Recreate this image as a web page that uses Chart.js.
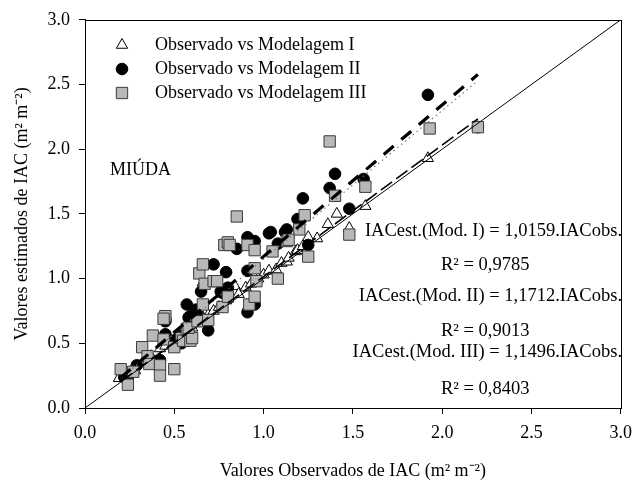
<!DOCTYPE html>
<html><head><meta charset="utf-8">
<script src="https://cdn.jsdelivr.net/npm/chart.js@4.4.1/dist/chart.umd.min.js"></script>
<style>html,body{margin:0;padding:0;background:#fff}#wrap{width:640px;height:487px;position:relative}</style>
</head><body><div id="wrap"><canvas id="c" width="640" height="487"></canvas></div>
<script>
// ---- data ----
const obsModI = [0.19,0.22,0.28,0.33,0.37,0.42,0.45,0.48,0.52,0.56,0.60,0.63,0.66,0.66,0.69,0.72,0.75,0.79,0.84,0.86,0.90,0.93,0.97,1.00,1.03,1.07,1.10,1.13,1.14,1.18,1.19,1.22,1.25,1.30,1.36,1.41,1.48,1.57,1.92,2.20];
const estModI = [0.23,0.25,0.29,0.36,0.40,0.46,0.48,0.52,0.54,0.58,0.62,0.66,0.70,0.97,0.72,0.75,0.78,0.83,0.94,0.88,0.93,0.96,1.00,1.03,1.06,1.07,1.12,1.13,1.16,1.21,1.22,1.25,1.32,1.31,1.42,1.50,1.39,1.56,1.93,2.17];
const obsModII = [0.22,0.24,0.29,0.39,0.42,0.45,0.45,0.45,0.51,0.54,0.55,0.57,0.58,0.59,0.62,0.63,0.65,0.69,0.72,0.76,0.77,0.79,0.80,0.85,0.91,0.91,0.91,0.95,0.95,1.03,1.04,1.08,1.12,1.13,1.19,1.22,1.25,1.37,1.40,1.48,1.56,1.92,2.20];
const estModII = [0.24,0.24,0.33,0.35,0.37,0.57,0.67,0.69,0.53,0.50,0.57,0.80,0.70,0.71,0.76,0.72,0.90,0.60,1.11,0.90,0.89,1.05,0.93,1.23,1.32,1.06,0.74,1.29,0.80,1.35,1.36,1.27,1.36,1.38,1.46,1.62,1.26,1.70,1.81,1.54,1.77,2.42,2.17];
const obsModIII = [0.20,0.24,0.27,0.32,0.35,0.36,0.38,0.42,0.42,0.44,0.45,0.44,0.50,0.50,0.54,0.55,0.57,0.59,0.60,0.58,0.63,0.64,0.66,0.66,0.67,0.69,0.72,0.74,0.77,0.78,0.80,0.81,0.80,0.85,0.91,0.92,0.95,0.95,0.95,0.96,1.05,1.08,1.13,1.14,1.20,1.23,1.25,1.37,1.40,1.48,1.57,1.93,2.20];
const estModIII = [0.30,0.18,0.28,0.47,0.40,0.34,0.56,0.33,0.25,0.53,0.71,0.69,0.30,0.47,0.54,0.52,0.61,0.52,0.54,0.62,0.67,1.04,0.80,1.11,0.96,0.68,0.98,0.98,0.78,1.26,1.28,1.26,0.86,1.48,1.26,0.80,1.22,1.08,0.86,0.98,1.21,1.00,1.29,1.30,1.38,1.49,1.17,2.06,1.64,1.34,1.71,2.16,2.17];
const slopes = [1.0159, 1.1712, 1.1496];
const r2Values = ['0,9785', '0,9013', '0,8403'];
const fitRange = [0.2, 2.2];
const seriesLabels = ['Observado vs Modelagem I', 'Observado vs Modelagem II', 'Observado vs Modelagem III'];
const tickValues = [0, 0.5, 1, 1.5, 2, 2.5, 3];

const FONT = '"Liberation Serif", "Times New Roman", serif';
const pts = (xs, ys) => xs.map((x, i) => ({x, y: ys[i]}));
const fitLine = s => fitRange.map(x => ({x, y: +(x * s).toFixed(4)}));

const styles = [
  {pointStyle: 'triangle', radius: 6.5, bg: '#ffffff', border: '#000000', bw: 1},
  {pointStyle: 'circle', radius: 5.8, bg: '#000000', border: '#000000', bw: 1},
  {pointStyle: 'rect', radius: 8, bg: '#b8b8b8', border: '#3a3a3a', bw: 1}
];

function scatterDs(i, data, order) {
  const s = styles[i];
  return {type: 'scatter', label: seriesLabels[i], data, order,
    pointStyle: s.pointStyle, pointRadius: s.radius, pointHoverRadius: s.radius,
    backgroundColor: s.bg, borderColor: s.border, pointBorderWidth: s.bw, showLine: false};
}

const overlay = {
  id: 'overlay',
  afterDraw(chart) {
    const ctx = chart.ctx, a = chart.chartArea;
    ctx.save();
    ctx.strokeStyle = '#000'; ctx.lineWidth = 1;
    ctx.strokeRect(Math.round(a.left) + 0.5, Math.round(a.top) + 0.5, Math.round(a.right - a.left), Math.round(a.bottom - a.top));
    // legend
    const rows = [45, 69, 93];
    ctx.font = '18px ' + FONT;
    ctx.fillStyle = '#000';
    ctx.textBaseline = 'middle';
    ctx.textAlign = 'left';
    rows.forEach((y, i) => {
      const s = styles[i];
      drawMarker(ctx, s, 122, y);
      ctx.fillStyle = '#000';
      ctx.fillText(seriesLabels[i], 155, y);
    });
    ctx.fillText('MIÚDA', 110, 170);
    // equations
    ctx.font = '18.5px ' + FONT;
    const eqs = ['IACest.(Mod. I) = ' + String(slopes[0].toFixed(4)).replace('.', ',') + '.IACobs.',
                 'IACest.(Mod. II) = ' + String(slopes[1].toFixed(4)).replace('.', ',') + '.IACobs.',
                 'IACest.(Mod. III) = ' + String(slopes[2].toFixed(4)).replace('.', ',') + '.IACobs.'];
    const eqY = [231, 296, 352], r2Y = [265, 331, 389];
    eqs.forEach((t, i) => {
      ctx.textAlign = 'right';
      ctx.fillText(t, 622, eqY[i]);
      ctx.textAlign = 'left';
      ctx.fillText('R² = ' + r2Values[i], 441, r2Y[i]);
    });
    ctx.restore();
  }
};

function drawMarker(ctx, s, x, y) {
  ctx.save();
  ctx.fillStyle = s.bg; ctx.strokeStyle = s.border; ctx.lineWidth = s.bw;
  ctx.beginPath();
  const r = s.radius;
  if (s.pointStyle === 'circle') {
    ctx.arc(x, y, r, 0, Math.PI * 2);
  } else if (s.pointStyle === 'rect') {
    const h = r * Math.SQRT1_2;
    ctx.rect(x - h, y - h, 2 * h, 2 * h);
  } else {
    let rad = 0;
    ctx.moveTo(x + Math.sin(rad) * r, y - Math.cos(rad) * r);
    rad += 2 * Math.PI / 3;
    ctx.lineTo(x + Math.sin(rad) * r, y - Math.cos(rad) * r);
    rad += 2 * Math.PI / 3;
    ctx.lineTo(x + Math.sin(rad) * r, y - Math.cos(rad) * r);
    ctx.closePath();
  }
  ctx.fill(); ctx.stroke();
  ctx.restore();
}

const axisCommon = {
  type: 'linear', min: 0, max: 3,
  afterBuildTicks(scale) { scale.ticks = tickValues.map(v => ({value: v})); },
  grid: {display: true, drawOnChartArea: false, drawTicks: true, tickLength: 6, color: '#000', lineWidth: 1},
  border: {display: true, color: '#000', width: 1}
};

new Chart(document.getElementById('c'), {
  data: {
    datasets: [
      {type: 'line', label: '1:1', data: [{x: 0, y: 0}, {x: 3, y: 3}], borderColor: '#000', borderWidth: 1, pointRadius: 0, fill: false, order: -4},
      {type: 'line', label: 'fit I', data: fitLine(slopes[0]), borderColor: '#000', borderWidth: 1.6, borderDash: [14, 5], pointRadius: 0, fill: false, order: -3},
      {type: 'line', label: 'fit II', data: fitLine(slopes[1]), borderColor: '#000', borderWidth: 3.2, borderDash: [13, 10], pointRadius: 0, fill: false, order: -2},
      {type: 'line', label: 'fit III', data: fitLine(slopes[2]), borderColor: '#777', borderWidth: 1.2, borderDash: [1.5, 3.5], pointRadius: 0, fill: false, order: -1},
      scatterDs(0, pts(obsModI, estModI), 3),
      scatterDs(1, pts(obsModII, estModII), 2),
      scatterDs(2, pts(obsModIII, estModIII), 1)
    ]
  },
  options: {
    responsive: false, animation: false, devicePixelRatio: 1,
    layout: {padding: {left: 0, top: 14, right: 15, bottom: 0}},
    plugins: {legend: {display: false}, tooltip: {enabled: false}},
    scales: {
      x: Object.assign({}, axisCommon, {
        position: 'bottom',
        afterFit(s) { s.height = 79; },
        ticks: {font: {family: FONT, size: 18}, color: '#000', padding: 8, maxRotation: 0, callback: v => v.toFixed(1)},
        title: {display: true, text: 'Valores Observados de IAC (m² m⁻²)', font: {family: FONT, size: 18}, color: '#000', padding: {top: 0, bottom: 5}}
      }),
      y: Object.assign({}, axisCommon, {
        position: 'left',
        afterFit(s) { s.width = 85; },
        ticks: {font: {family: FONT, size: 18}, color: '#000', padding: 9, callback: v => v.toFixed(1)},
        title: {display: true, text: 'Valores estimados de IAC (m² m⁻²)', font: {family: FONT, size: 18}, color: '#000', padding: {top: 11, bottom: 0}}
      })
    }
  },
  plugins: [overlay]
});
</script></body></html>
